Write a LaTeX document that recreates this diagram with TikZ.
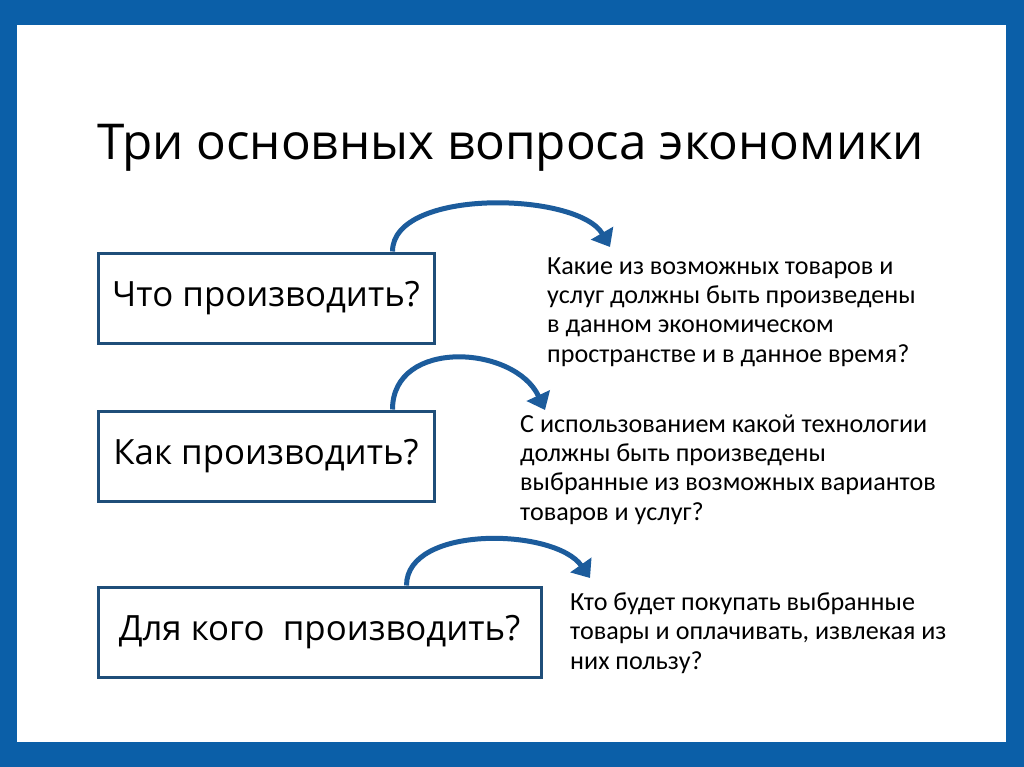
\documentclass[tikz,border=0pt]{standalone}
\usepackage{fontspec}
\setmainfont{Open Sans}
\newfontfamily\answerfont{Carlito}
\usetikzlibrary{arrows.meta}

\definecolor{framecol}{HTML}{0B5FA8}
\definecolor{boxcol}{HTML}{1F4E79}
\definecolor{arccol}{HTML}{1C5C9C}

\tikzset{
    question/.style={draw=boxcol, line width=3pt, minimum height=90pt, inner sep=0pt, font=\fontsize{34.8}{40}\selectfont},
    answer/.style={anchor=base west, align=left, inner sep=0pt, font=\answerfont\fontsize{26.1}{29.3}\selectfont},
    arcarrow/.style={draw=arccol, line width=5pt, -{Triangle[width=25pt,length=16pt]}}
}

\begin{document}
\begin{tikzpicture}[x=1pt, y=-1pt]
    % frame
    \fill[framecol] (0,0) rectangle (1024,767);
    \fill[white] (17,25) rectangle (1006,742);

    \node[anchor=base west, inner sep=0pt, font=\fontsize{49.4}{56}\selectfont] (title) at (97,160) {Три основных вопроса экономики};

    % questions
    \node[question, minimum width=336pt] (what) at (266,298) {Что производить?};
    \node[question, minimum width=336pt] (how) at (266,456) {Как производить?};
    \node[question, minimum width=443pt] (whom) at (319.5,632) {Для кого\ \ производить?};

    % answers (anchored at the baseline of their last line)
    \node[answer] (whatans) at (547,362) {Какие из возможных товаров и\\услуг должны быть произведены\\в данном экономическом\\пространстве и в данное время?};
    \node[answer] (howans) at (520,520) {С использованием какой технологии\\должны быть произведены\\выбранные из возможных вариантов\\товаров и услуг?};
    \node[answer] (whomans) at (570,669) {Кто будет покупать выбранные\\товары и оплачивать, извлекая из\\них пользу?};

    % arcs
    \coordinate (a1) at ([xshift=-43pt]what.north east);
    \coordinate (b1) at (610,247);
    \coordinate (a2) at ([xshift=-43pt]how.north east);
    \coordinate (b2) at (545,410);
    \coordinate (a3) at ([xshift=-136pt]whom.north east);
    \coordinate (b3) at (590,578);
    \draw[arcarrow] (a1) to[out=90, in=120, looseness=0.75] (b1);
    \draw[arcarrow] (a2) to[out=90, in=115, looseness=1.2] (b2);
    \draw[arcarrow] (a3) to[out=90, in=125, looseness=0.85] (b3);
\end{tikzpicture}
\end{document}
